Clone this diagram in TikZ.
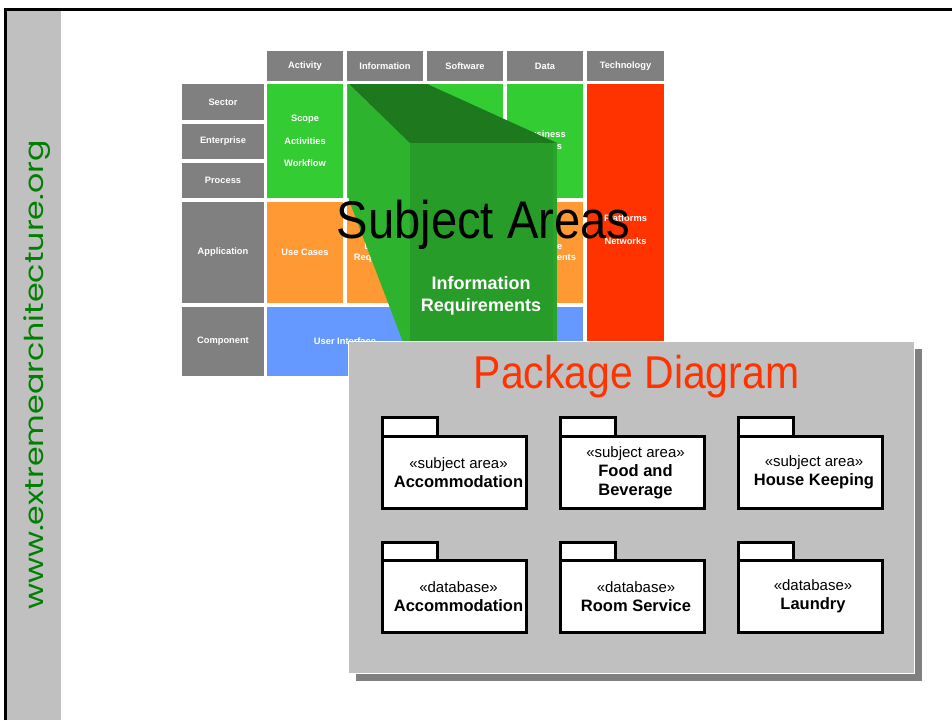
\documentclass[tikz,border=0pt]{standalone}
\usepackage{fontspec}
\setmainfont{Liberation Sans}
\newfontfamily\webfont{Poppins}
\newcommand\pkgnm{\fontsize{16.5}{19}\selectfont\bfseries}
\definecolor{hdrgray}{HTML}{808080}
\definecolor{cgreen}{HTML}{33CC33}
\definecolor{corange}{HTML}{FF9933}
\definecolor{cblue}{HTML}{6699FF}
\definecolor{cred}{HTML}{FF3300}
\definecolor{ptop}{HTML}{1E781E}
\definecolor{pleft}{HTML}{2DB32D}
\definecolor{pfront}{HTML}{289C28}
\definecolor{pfrontr}{HTML}{2BA42B}
\definecolor{stripgray}{HTML}{C0C0C0}
\definecolor{webgreen}{HTML}{008000}
\begin{document}
\begin{tikzpicture}[x=1pt,y=-1pt,
  cell/.style={anchor=north west, inner sep=0pt, outer sep=0pt, text=white,
    font=\fontsize{9.3}{11}\selectfont\bfseries, align=center, minimum width=76pt},
  hdr/.style={cell, fill=hdrgray, minimum height=30pt},
  rowhdr/.style={cell, fill=hdrgray, minimum width=82pt},
  gcell/.style={cell, fill=cgreen, minimum height=114pt},
  ocell/.style={cell, fill=corange, minimum height=101pt},
  bcell/.style={cell, fill=cblue, minimum width=156pt, minimum height=69pt},
  tabbox/.style={anchor=north west, draw=black, fill=white, line width=3pt, minimum width=55pt, minimum height=19pt, inner sep=0pt},
  bodybox/.style={anchor=north west, draw=black, fill=white, line width=3pt, minimum width=144pt, minimum height=72pt, inner sep=0pt},
  pkgtxt/.style={align=center, inner sep=0pt, font=\fontsize{15}{19}\selectfont}
]
\useasboundingbox (0,0) rectangle (952,720);
\fill[white] (0,0) rectangle (952,720);

% left strip and frame
\fill[stripgray] (7,11) rectangle (61,720);
\draw[line width=3pt] (5.3,720) -- (5.3,9.8) -- (952,9.8);
\node[rotate=90, anchor=base, text=webgreen, inner sep=0pt, font=\webfont\fontsize{26}{30}\selectfont] (web) at (43,375) {\scalebox{1.22}[1]{www.extremearchitecture.org}};

% column headers
\node[hdr] (hact) at (267,51) {Activity};
\node[hdr] (hinf) at (347,51) {Information};
\node[hdr] (hsw) at (427,51) {Software};
\node[hdr] (hdat) at (507,51) {Data};
\node[hdr, minimum width=77pt] (htec) at (587,51) {Technology};

% row headers
\node[rowhdr, minimum height=36pt] (sector) at (182,84) {Sector};
\node[rowhdr, minimum height=35pt] (enterprise) at (182,124) {Enterprise};
\node[rowhdr, minimum height=35pt] (process) at (182,163) {Process};
\node[rowhdr, minimum height=101pt] (application) at (182,202) {Application};
\node[rowhdr, minimum height=69pt] (component) at (182,307) {Component};

% cells
\node[gcell] (gact) at (267,84) {Scope\\[11.5pt]Activities\\[11.5pt]Workflow};
\node[gcell] (ginf) at (347,84) {};
\node[gcell] (gsw) at (427,84) {};
\node[gcell] (gdat) at (507,84) {Business\\[1pt]Objects};
\node[cell, fill=cred, minimum width=77pt, minimum height=292pt] (tech) at (587,84) {Platforms\\[12pt]Networks};
\node[ocell] (oact) at (267,202) {Use Cases};
\node[ocell] (oinf) at (347,202) {Business\\Requirements};
\node[ocell] (osw) at (427,202) {};
\node[ocell] (odat) at (507,202) {Storage\\Requirements};
\node[bcell] (bui) at (267,307) {User Interface};
\node[bcell] (bsd) at (427,307) {};

% prism
\fill[pleft] (348,84) -- (410,143) -- (410,350) -- (406,350) -- (348.5,199) -- cycle;
\fill[ptop] (349,84) -- (427,84) -- (557,143) -- (410,143) -- cycle;
\fill[pfront] (410,143) rectangle (557,350);
\fill[pfrontr] (553,143) rectangle (557,350);
\node[text=white, align=center, inner sep=0pt, font=\fontsize{18}{21.7}\selectfont\bfseries] (ireq) at (481,296) {Information\\Requirements};

% title over matrix
\node[anchor=base, inner sep=0pt, font=\fontsize{53}{60}\selectfont] (subj) at (483.5,238) {\scalebox{0.89}[1]{Subject Areas}};

% package diagram panel
\fill[hdrgray] (356,349) rectangle (922,681);
\node[anchor=north west, fill=stripgray, draw=white, line width=1pt, minimum width=566pt, minimum height=332pt, inner sep=0pt] (pkg) at (348,341) {};
\node[anchor=base, inner sep=0pt, text=cred, font=\fontsize{46}{50}\selectfont] (ptitle) at (636.5,388) {\scalebox{0.89}[1]{Package Diagram}};

% folders row 1
\node[tabbox] (t1) at (381,416) {};
\node[bodybox] (b1) at (381,435) {};
\node[tabbox] (t2) at (559,416) {};
\node[bodybox] (b2) at (559,435) {};
\node[tabbox] (t3) at (737,416) {};
\node[bodybox] (b3) at (737,435) {};
% folders row 2
\node[tabbox, minimum height=18pt] (t4) at (381,541) {};
\node[bodybox] (b4) at (381,559) {};
\node[tabbox, minimum height=18pt] (t5) at (559,541) {};
\node[bodybox] (b5) at (559,559) {};
\node[tabbox, minimum height=18pt] (t6) at (737,541) {};
\node[bodybox] (b6) at (737,559) {};

\node[pkgtxt] (l1) at ([xshift=4pt]b1.center) {«subject area»\\{\pkgnm Accommodation}};
\node[pkgtxt] (l2) at ([xshift=3pt]b2.center) {«subject area»\\{\pkgnm Food and}\\{\pkgnm Beverage}};
\node[pkgtxt] (l3) at ([xshift=3.5pt]b3.center) {«subject area»\\{\pkgnm House Keeping}};
\node[pkgtxt] (l4) at ([xshift=4pt]b4.center) {«database»\\{\pkgnm Accommodation}};
\node[pkgtxt] (l5) at ([xshift=3.5pt]b5.center) {«database»\\{\pkgnm Room Service}};
\node[pkgtxt] (l6) at ([xshift=2.5pt]b6.center) {«database»\\{\pkgnm Laundry}};
\end{tikzpicture}
\end{document}
